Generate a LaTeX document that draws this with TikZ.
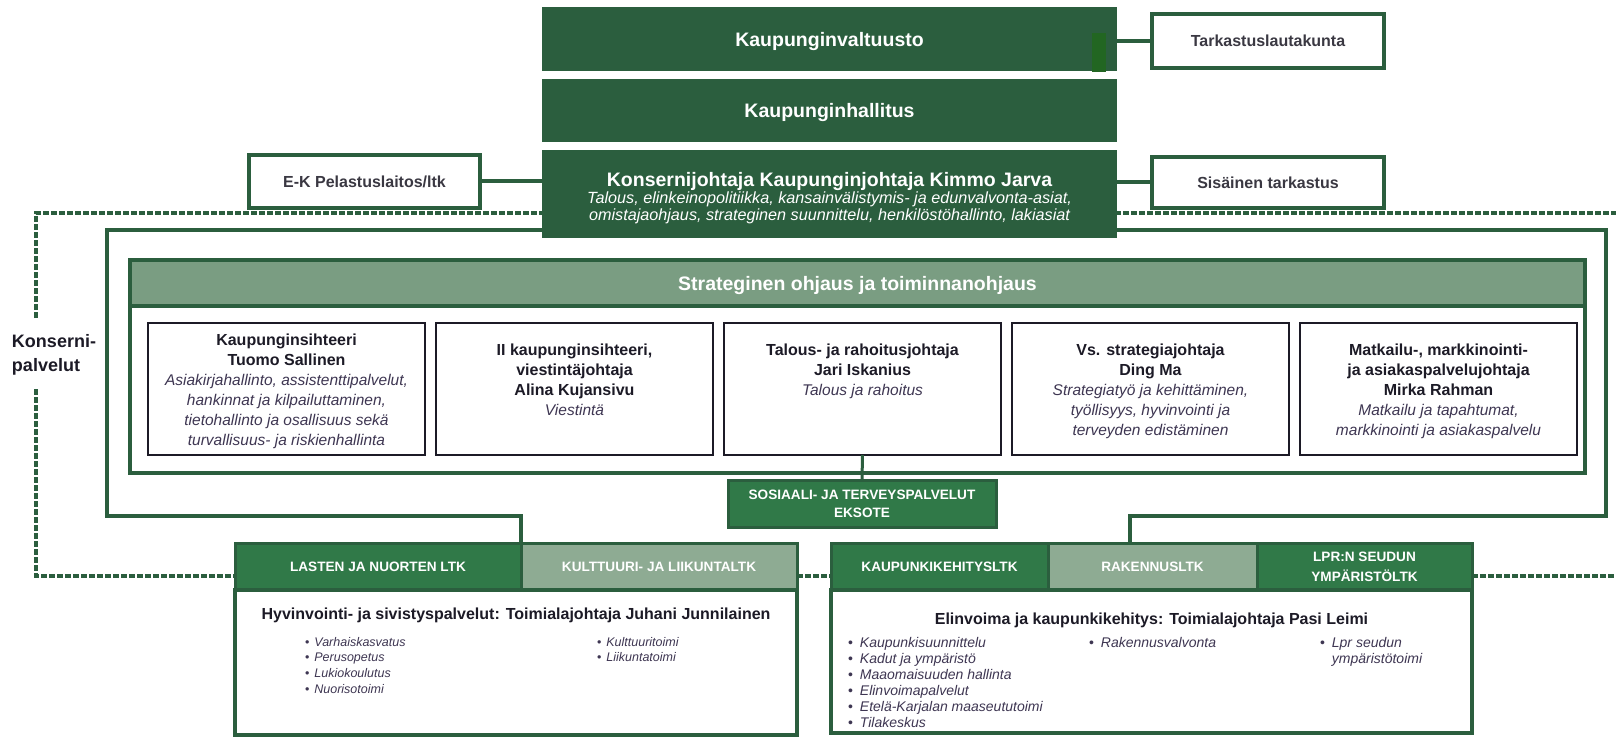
\documentclass[tikz,border=0pt]{standalone}
\usepackage{fontspec}
\setmainfont{Liberation Sans}
\usetikzlibrary{positioning}

\definecolor{dkgreen}{RGB}{43,94,62}
\definecolor{mdgreen}{RGB}{48,121,72}
\definecolor{ltgreen}{RGB}{122,157,130}
\definecolor{gygreen}{RGB}{142,171,147}
\definecolor{bargreen}{RGB}{34,102,34}
\definecolor{inktext}{RGB}{28,26,38}
\definecolor{italtext}{RGB}{62,54,82}
\definecolor{graytext}{RGB}{58,56,66}

\newcommand{\fsz}[2]{\fontsize{#1}{#2}\selectfont}
\newcommand{\itl}[1]{{\mdseries\itshape\color{italtext}\fsz{15.5}{20}#1}}
\newcommand{\bulit}{{\upshape\textbullet}\hspace{5pt}}
\newcommand{\bulitR}{{\upshape\textbullet}\hspace{7pt}}

\begin{document}
\begin{tikzpicture}[x=1pt,y=-1pt,
    every node/.style={inner sep=0pt,outer sep=0pt},
    topbox/.style={fill=dkgreen,minimum width=575pt,text=white,text depth=0pt,
                   font=\fsz{19.5}{23}\bfseries},
    sidebox/.style={draw=dkgreen,line width=4pt,fill=white,minimum width=232pt,
                    text=graytext,text depth=0pt,font=\fsz{16}{19}\bfseries},
    pbox/.style={draw=inktext,line width=1.2pt,fill=white,minimum width=277pt,
                 minimum height=132pt},
    ptext/.style={align=center,text=inktext,font=\fsz{16}{20}\bfseries},
    ltk/.style={draw=dkgreen,line width=3pt,fill=mdgreen,minimum height=47pt,
                text=white,align=center,font=\fsz{13.6}{18}\bfseries},
    ltkpale/.style={ltk,fill=gygreen},
    areabox/.style={draw=dkgreen,line width=4pt,fill=white},
    areatitle/.style={text=inktext,font=\fsz{16}{19}\bfseries},
    link/.style={draw=dkgreen,line width=4pt},
    dotline/.style={draw=dkgreen,line width=4pt,dash pattern=on 6pt off 2pt},
    bullets/.style={anchor=north west,align=left,text=italtext,
                    font=\fsz{12.5}{15.7}\itshape},
    bulletsR/.style={bullets,font=\fsz{14}{16}\itshape}]

  \useasboundingbox (0,0) rectangle (1616,738);

  \coordinate (dTL) at (36,213);
  \coordinate (dTR) at (1616,213);
  \coordinate (dL1) at (36,318);
  \coordinate (dL2) at (36,389);
  \coordinate (dBL) at (36,576);
  \coordinate (dBR) at (1616,576);
  \coordinate (fR)  at (1130,543);

  % lautakunnat
  \node[ltk,minimum width=286pt]            (LA) at (378,566.5) {LASTEN JA NUORTEN LTK};
  \node[ltkpale,minimum width=276pt]        (KL) [right=0pt of LA] {KULTTUURI- JA LIIKUNTALTK};
  \node[areabox,minimum width=562pt,minimum height=145pt]
                                            (HY) [below right=0pt and 0pt of LA.south west] {};
  \node[areatitle]                          (HYt) [below=17.5pt of HY.north]
        {Hyvinvointi- ja sivistyspalvelut: Toimialajohtaja Juhani Junnilainen};
  \node[bullets] (HY1) at (305,637) {\bulit Varhaiskasvatus\\\bulit Perusopetus\\
                                     \bulit Lukiokoulutus\\\bulit Nuorisotoimi};
  \node[bullets] (HY2) at (597,637) {\bulit Kulttuuritoimi\\\bulit Liikuntatoimi};

  \node[ltk,minimum width=217pt]            (KK) at (939.5,566.5) {KAUPUNKIKEHITYSLTK};
  \node[ltkpale,minimum width=209pt]        (RK) [right=0pt of KK] {RAKENNUSLTK};
  \node[ltk,minimum width=215pt,font=\fsz{13.6}{20}\bfseries]
                                            (LP) [right=0pt of RK] {LPR:N SEUDUN\\YMPÄRISTÖLTK};
  \node[areabox,minimum width=641pt,minimum height=143pt]
                                            (EL) [below right=0pt and 0pt of KK.south west] {};
  \node[areatitle]                          (ELt) [below=22.5pt of EL.north]
        {Elinvoima ja kaupunkikehitys: Toimialajohtaja Pasi Leimi};
  \node[bulletsR] (EL1) at (848,637) {\bulitR Kaupunkisuunnittelu\\\bulitR Kadut ja ympäristö\\
                                      \bulitR Maaomaisuuden hallinta\\\bulitR Elinvoimapalvelut\\
                                      \bulitR Etelä-Karjalan maaseututoimi\\\bulitR Tilakeskus};
  \node[bulletsR] (EL2) at (1089,637) {\bulitR Rakennusvalvonta};
  \node[bulletsR] (EL3) at (1320,637) {\bulitR Lpr seudun\\\hphantom{\bulitR}ympäristötoimi};

  % konsernipalvelut
  \draw[dotline] (dL1) -- (dTL) -- (dTR);
  \draw[dotline] (dL2) -- (dBL) -- (dBL -| HY.west);
  \draw[dotline] (dBL -| HY.east) -- (dBL -| EL.west);
  \draw[dotline] (dBL -| EL.east) -- (dBR);
  \node[anchor=west,align=left,text=inktext,font=\fsz{18}{24}\bfseries]
        (KP) at (12,355) {Konserni-\\palvelut};

  \draw[link] (LA.north east) |- (107,516) |- (1606,230) |- (1130,516) -- (fR);

  \node[areabox,minimum width=1455pt,minimum height=213pt] (SO) at (857.5,366.5) {};
  \node[draw=dkgreen,line width=4pt,fill=ltgreen,minimum width=1455pt,minimum height=46pt,
        text=white,text depth=0pt,font=\fsz{19.5}{23}\bfseries]
        (SH) at (857.5,283) {Strateginen ohjaus ja toiminnanohjaus};

  \node[pbox] (B1) at (286.5,389) {};
  \node[pbox] (B2) at (574.5,389) {};
  \node[pbox] (B3) at (862.5,389) {};
  \node[pbox] (B4) at (1150.5,389) {};
  \node[pbox] (B5) at (1438.5,389) {};

  \node[ptext] (B1t) [below=11pt of B1.north] {Kaupunginsihteeri\\Tuomo Sallinen\\
        \itl{Asiakirjahallinto, assistenttipalvelut,}\\\itl{hankinnat ja kilpailuttaminen,}\\
        \itl{tietohallinto ja osallisuus sekä}\\\itl{turvallisuus- ja riskienhallinta}};
  \node[ptext] (B2t) [below=21pt of B2.north] {II kaupunginsihteeri,\\viestintäjohtaja\\
        Alina Kujansivu\\\itl{Viestintä}};
  \node[ptext] (B3t) [below=21pt of B3.north] {Talous- ja rahoitusjohtaja\\Jari Iskanius\\
        \itl{Talous ja rahoitus}};
  \node[ptext] (B4t) [below=21pt of B4.north] {Vs. strategiajohtaja\\Ding Ma\\
        \itl{Strategiatyö ja kehittäminen,}\\\itl{työllisyys, hyvinvointi ja}\\
        \itl{terveyden edistäminen}};
  \node[ptext] (B5t) [below=21pt of B5.north] {Matkailu-, markkinointi-\\ja asiakaspalvelujohtaja\\
        Mirka Rahman\\\itl{Matkailu ja tapahtumat,}\\\itl{markkinointi ja asiakaspalvelu}};

  \node[ltk,minimum width=268pt] (SOS) at (862,503.5) {SOSIAALI- JA TERVEYSPALVELUT\\EKSOTE};
  \draw[link,line width=3pt] (B3.south) -- (SOS.north);

  % toimielimet
  \node[topbox,minimum height=64pt] (KV) at (829.5,39)    {Kaupunginvaltuusto};
  \node[topbox,minimum height=63pt] (KH) at (829.5,110.5) {Kaupunginhallitus};
  \node[topbox,minimum height=88pt] (KJ) at (829.5,194)   {};
  \node[align=center,text=white,font=\fsz{16.2}{17}\itshape] (KJt) [below=22pt of KJ.north]
        {{\upshape\bfseries\fsz{19.5}{17}Konsernijohtaja Kaupunginjohtaja Kimmo Jarva}\\
         Talous, elinkeinopolitiikka, kansainvälistymis- ja edunvalvonta-asiat,\\
         omistajaohjaus, strateginen suunnittelu, henkilöstöhallinto, lakiasiat};
  \fill[bargreen] (1092,33) rectangle (1106,72);

  \node[sidebox,minimum height=54pt] (TL) at (1268,41)    {Tarkastuslautakunta};
  \node[sidebox,minimum height=51pt] (ST) at (1268,182.5) {Sisäinen tarkastus};
  \node[sidebox,minimum width=231pt,minimum height=53pt]
                                     (EK) at (364.5,181.5) {E-K Pelastuslaitos/ltk};

  \draw[link] (TL.west -| KV.east) -- (TL.west);
  \draw[link] (ST.west -| KJ.east) -- (ST.west);
  \draw[link] (EK.east) -- (EK.east -| KJ.west);
\end{tikzpicture}
\end{document}
